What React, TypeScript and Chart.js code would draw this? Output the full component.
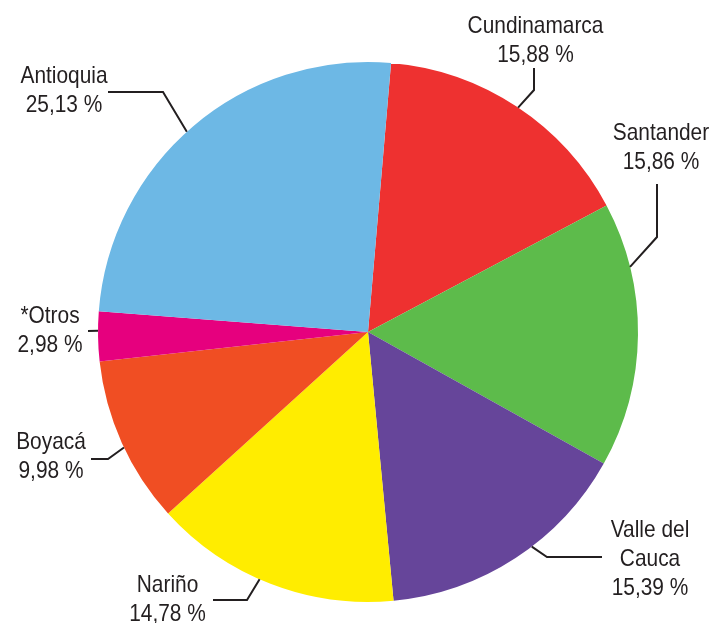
import React, { useEffect, useRef } from "react";
import { Chart, registerables } from "chart.js";

Chart.register(...registerables);

const regions = ["Cundinamarca", "Santander", "Valle del Cauca", "Nariño", "Boyacá", "*Otros", "Antioquia"];
const shares = [15.88, 15.86, 15.39, 14.78, 9.98, 2.98, 25.13];
const labelLines = [
  ["Cundinamarca"],
  ["Santander"],
  ["Valle del", "Cauca"],
  ["Nariño"],
  ["Boyacá"],
  ["*Otros"],
  ["Antioquia"],
];
const colors = ["#EE3130", "#5DBB4B", "#66459A", "#FFED00", "#F04E23", "#E6007E", "#6DB8E5"];

// leader-line layout (relative to pie centre, px)
const anchorFrac = [0.505, 0.245, 0.424, 0.547, 0.47, 0.61, 0.48];
const elbows: (number[] | null)[] = [[166, -242], [289, -95], [179, 225], [-121, 268], [-260, 127], null, [-205, -240]];
const ends = [[166, -264], [289, -148], [234, 225], [-155, 268], [-277, 127], [-280, -1], [-260, -240]];
const textX = [167.5, 293, 282, -200.5, -317, -318, -304];
const textTop = [-299, -192, 205, 260, 117, -9, -249];

const fmt = (v: number) => v.toFixed(2).replace(".", ",") + " %";

const labelPlugin = {
  id: "leaderLabels",
  afterDatasetsDraw(chart: any) {
    const ctx = chart.ctx as CanvasRenderingContext2D;
    const meta = chart.getDatasetMeta(0);
    ctx.save();
    ctx.strokeStyle = "#231F20";
    ctx.fillStyle = "#231F20";
    ctx.lineWidth = 2;
    ctx.font = "24px 'Liberation Sans', Arial, sans-serif";
    ctx.textAlign = "center";
    ctx.textBaseline = "alphabetic";
    meta.data.forEach((arc: any, i: number) => {
      const p = arc.getProps(["x", "y", "startAngle", "endAngle", "outerRadius"], true);
      const cx = p.x, cy = p.y, r = p.outerRadius;
      const a = p.startAngle + anchorFrac[i] * (p.endAngle - p.startAngle);
      const ax = cx + r * Math.cos(a);
      const ay = cy + r * Math.sin(a);
      ctx.beginPath();
      ctx.moveTo(ax, ay);
      const e = elbows[i];
      if (e) ctx.lineTo(cx + e[0], cy + e[1]);
      ctx.lineTo(cx + ends[i][0], cy + ends[i][1]);
      ctx.stroke();
      const lines = [...labelLines[i], fmt(shares[i])];
      lines.forEach((t, k) => {
        ctx.save();
        ctx.translate(cx + textX[i], cy + textTop[i] + k * 29);
        ctx.scale(0.87, 1);
        ctx.fillText(t, 0, 0);
        ctx.restore();
      });
    });
    ctx.restore();
  },
};

export default function App() {
  const ref = useRef<HTMLCanvasElement>(null);
  useEffect(() => {
    document.body.style.margin = "0";
    const chart = new Chart(ref.current!, {
      type: "pie",
      data: {
        labels: regions,
        datasets: [{ data: shares, backgroundColor: colors, borderWidth: 0 }],
      },
      options: {
        responsive: false,
        maintainAspectRatio: false,
        devicePixelRatio: 1,
        animation: false,
        rotation: 4.9,
        layout: { padding: { left: 98, right: 85, top: 62, bottom: 21 } },
        plugins: { legend: { display: false }, tooltip: { enabled: false }, title: { display: false } },
      },
      plugins: [labelPlugin],
    });
    return () => chart.destroy();
  }, []);
  return (
    <div style={{ width: 723, height: 623, background: "#fff" }}>
      <canvas ref={ref} width={723} height={623} style={{ display: "block" }} />
    </div>
  );
}
